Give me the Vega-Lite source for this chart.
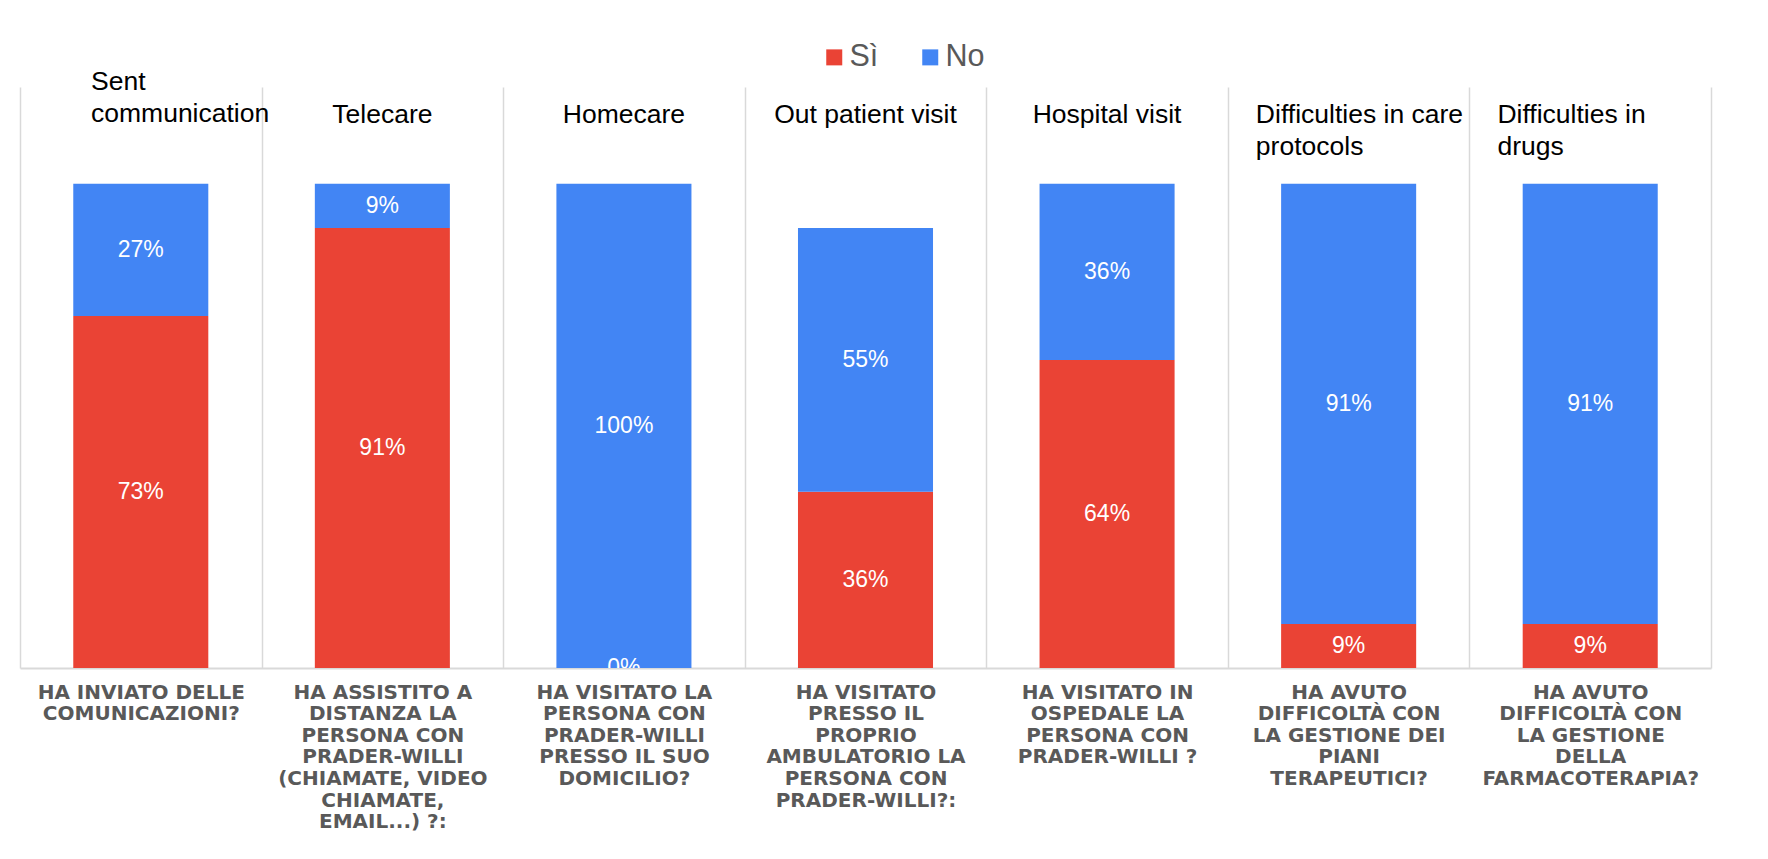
{
  "$schema": "https://vega.github.io/schema/vega-lite/v6.json",
  "width": 1691,
  "height": 581,
  "autosize": {"type": "none"},
  "padding": {"left": 20, "top": 87, "right": 57, "bottom": 191},
  "background": "white",
  "config": {"view": {"stroke": null}, "font": "Liberation Sans"},
  "data": {
    "values": [
      {"q": "HA INVIATO DELLE\nCOMUNICAZIONI?", "en": "Sent\ncommunication", "series": "Sì", "value": 0.727},
      {"q": "HA INVIATO DELLE\nCOMUNICAZIONI?", "en": "Sent\ncommunication", "series": "No", "value": 0.273},
      {"q": "HA ASSISTITO A\nDISTANZA LA\nPERSONA CON\nPRADER-WILLI\n(CHIAMATE, VIDEO\nCHIAMATE,\nEMAIL...) ?:", "en": "Telecare", "series": "Sì", "value": 0.909},
      {"q": "HA ASSISTITO A\nDISTANZA LA\nPERSONA CON\nPRADER-WILLI\n(CHIAMATE, VIDEO\nCHIAMATE,\nEMAIL...) ?:", "en": "Telecare", "series": "No", "value": 0.091},
      {"q": "HA VISITATO LA\nPERSONA CON\nPRADER-WILLI\nPRESSO IL SUO\nDOMICILIO?", "en": "Homecare", "series": "Sì", "value": 0},
      {"q": "HA VISITATO LA\nPERSONA CON\nPRADER-WILLI\nPRESSO IL SUO\nDOMICILIO?", "en": "Homecare", "series": "No", "value": 1.0},
      {"q": "HA VISITATO\nPRESSO IL\nPROPRIO\nAMBULATORIO LA\nPERSONA CON\nPRADER-WILLI?:", "en": "Out patient visit", "series": "Sì", "value": 0.364},
      {"q": "HA VISITATO\nPRESSO IL\nPROPRIO\nAMBULATORIO LA\nPERSONA CON\nPRADER-WILLI?:", "en": "Out patient visit", "series": "No", "value": 0.545},
      {"q": "HA VISITATO  IN\nOSPEDALE LA\nPERSONA CON\nPRADER-WILLI ?", "en": "Hospital visit", "series": "Sì", "value": 0.636},
      {"q": "HA VISITATO  IN\nOSPEDALE LA\nPERSONA CON\nPRADER-WILLI ?", "en": "Hospital visit", "series": "No", "value": 0.364},
      {"q": "HA AVUTO\nDIFFICOLTÀ CON\nLA GESTIONE DEI\nPIANI\nTERAPEUTICI?", "en": "Difficulties in care\nprotocols", "series": "Sì", "value": 0.091},
      {"q": "HA AVUTO\nDIFFICOLTÀ CON\nLA GESTIONE DEI\nPIANI\nTERAPEUTICI?", "en": "Difficulties in care\nprotocols", "series": "No", "value": 0.909},
      {"q": "HA AVUTO\nDIFFICOLTÀ CON\nLA GESTIONE\nDELLA\nFARMACOTERAPIA?", "en": "Difficulties in\ndrugs", "series": "Sì", "value": 0.091},
      {"q": "HA AVUTO\nDIFFICOLTÀ CON\nLA GESTIONE\nDELLA\nFARMACOTERAPIA?", "en": "Difficulties in\ndrugs", "series": "No", "value": 0.909}
    ]
  },
  "encoding": {
    "x": {
      "field": "q",
      "type": "nominal",
      "sort": null,
      "scale": {"paddingInner": 0, "paddingOuter": 0},
      "axis": {
        "title": null,
        "labelExpr": "split(datum.label, '\\n')",
        "labelFont": "DejaVu Sans",
        "labelFontWeight": "bold",
        "labelFontSize": 20,
        "labelColor": "#595959",
        "labelLineHeight": 21.6,
        "labelPadding": 14,
        "labelLimit": 300,
        "labelAngle": 0,
        "labelBaseline": "top",
        "ticks": false,
        "tickSize": 0,
        "tickBand": "extent",
        "grid": true,
        "gridColor": "#d9d9d9",
        "gridWidth": 1.5,
        "domainColor": "#d9d9d9",
        "domainWidth": 2
      }
    }
  },
  "layer": [
    {
      "mark": {"type": "bar", "width": {"band": 0.559}},
      "encoding": {
        "y": {"field": "value", "type": "quantitative", "stack": "zero", "scale": {"domain": [0, 1.2], "nice": false, "zero": true}, "axis": null},
        "color": {
          "field": "series",
          "type": "nominal",
          "scale": {"domain": ["Sì", "No"], "range": ["#EA4335", "#4285F4"]},
          "legend": {
            "orient": "none",
            "legendX": 799,
            "legendY": -45,
            "direction": "horizontal",
            "title": null,
            "symbolType": "square",
            "symbolSize": 256,
            "symbolStrokeWidth": 0,
            "labelFontSize": 30.5,
            "labelColor": "#595959",
            "labelFont": "Liberation Sans",
            "columnPadding": 36,
            "labelOffset": 0,
            "padding": 0
          }
        },
        "order": {"field": "series", "sort": "descending"}
      }
    },
    {
      "mark": {"type": "text", "color": "white", "fontSize": 23, "baseline": "middle", "clip": true},
      "encoding": {
        "y": {"field": "value", "type": "quantitative", "stack": "zero", "bandPosition": 0.5},
        "detail": {"field": "series"},
        "order": {"field": "series", "sort": "descending"},
        "text": {"field": "value", "type": "quantitative", "format": ".0%"}
      }
    },
    {
      "transform": [{"filter": {"field": "series", "equal": "No"}}, {"filter": {"field": "en", "oneOf": ["Telecare", "Homecare", "Out patient visit", "Hospital visit"]}}],
      "mark": {"type": "text", "color": "black", "fontSize": 26.5, "align": "center", "baseline": "alphabetic"},
      "encoding": {
        "y": {"datum": 1.1254},
        "text": {"field": "en"}
      }
    },
    {
      "transform": [{"filter": {"field": "series", "equal": "No"}}, {"filter": {"field": "en", "equal": "Sent\ncommunication"}}],
      "mark": {"type": "text", "color": "black", "fontSize": 26.5, "align": "left", "baseline": "alphabetic", "lineBreak": "\n", "lineHeight": 32, "dx": 71},
      "encoding": {
        "x": {"field": "q", "type": "nominal", "sort": null, "bandPosition": 0},
        "y": {"datum": 1.194},
        "text": {"field": "en"}
      }
    },
    {
      "transform": [{"filter": {"field": "series", "equal": "No"}}, {"filter": {"field": "en", "oneOf": ["Difficulties in care\nprotocols", "Difficulties in\ndrugs"]}}],
      "mark": {"type": "text", "color": "black", "fontSize": 26.5, "align": "left", "baseline": "alphabetic", "lineBreak": "\n", "lineHeight": 32, "dx": 28},
      "encoding": {
        "x": {"field": "q", "type": "nominal", "sort": null, "bandPosition": 0},
        "y": {"datum": 1.1254},
        "text": {"field": "en"}
      }
    }
  ]
}
